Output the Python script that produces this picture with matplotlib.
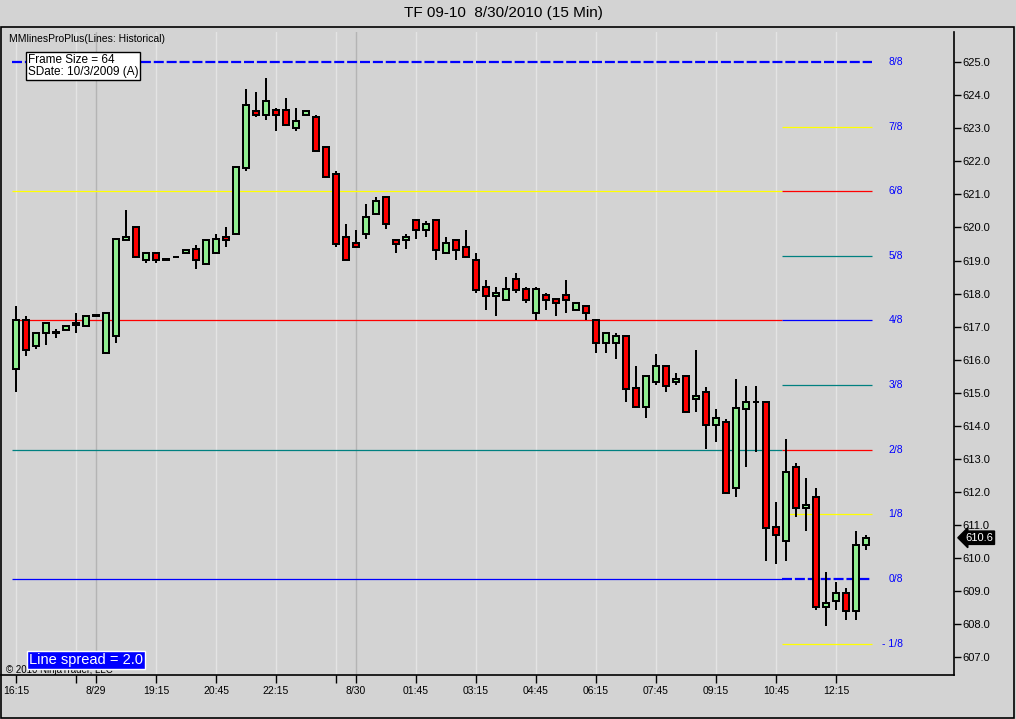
import matplotlib
matplotlib.use('agg')
import matplotlib.pyplot as plt
from matplotlib.patches import Rectangle
import numpy as np

plt.rcParams['font.family'] = ['Liberation Sans', 'DejaVu Sans']

# 15 min bars, TF 09-10
opens = [615.71, 617.20, 616.41, 616.80, 616.82, 616.90, 617.04, 617.02, 617.33, 616.21,
         616.72, 619.62, 620.02, 619.01, 619.24, 619.02, 619.10, 619.24, 619.34, 618.91,
         619.24, 619.72, 619.80, 621.80, 623.53, 623.40, 623.55, 623.55, 623.00, 623.40,
         623.33, 622.42, 621.63, 619.72, 619.52, 619.80, 620.41, 620.93, 619.62, 619.62,
         620.22, 619.92, 620.22, 619.22, 619.62, 619.42, 619.03, 618.21, 617.93, 617.81,
         618.43, 618.13, 617.40, 617.96, 617.83, 617.96, 617.50, 617.62, 617.20, 616.50,
         616.50, 616.72, 615.14, 614.58, 615.34, 615.81, 615.33, 615.51, 614.80, 615.03,
         614.03, 614.13, 612.11, 614.50, 614.73, 614.73, 610.93, 610.53, 612.75, 611.51,
         611.84, 608.52, 608.72, 608.94, 608.41, 610.40]
highs = [617.62, 617.32, 616.82, 617.12, 616.92, 617.02, 617.40, 617.32, 617.35, 617.42,
         619.64, 620.53, 620.02, 619.24, 619.24, 619.04, 619.12, 619.32, 619.47, 619.62,
         619.80, 620.00, 621.82, 624.20, 624.11, 624.51, 623.60, 623.90, 623.60, 623.53,
         623.40, 622.42, 621.70, 620.10, 619.92, 620.71, 620.91, 620.93, 619.62, 619.80,
         620.22, 620.20, 620.22, 619.70, 619.62, 619.92, 619.22, 618.41, 618.19, 618.49,
         618.61, 618.19, 618.19, 618.03, 617.83, 618.41, 617.72, 617.62, 617.20, 616.82,
         616.80, 616.72, 615.81, 615.51, 616.19, 615.81, 615.59, 615.51, 616.31, 615.18,
         614.50, 614.20, 615.41, 615.21, 615.21, 614.73, 611.71, 613.59, 612.89, 612.42,
         612.11, 609.59, 609.29, 609.09, 610.83, 610.70]
lows = [615.03, 616.11, 616.34, 616.44, 616.65, 616.90, 616.82, 617.02, 617.33, 616.21,
        616.51, 619.62, 619.10, 618.93, 618.93, 619.02, 619.10, 619.24, 618.73, 618.91,
        619.24, 619.42, 619.80, 621.71, 623.33, 623.25, 622.92, 623.10, 622.92, 623.40,
        622.31, 621.53, 619.42, 619.01, 619.40, 619.64, 620.41, 619.94, 619.24, 619.34,
        619.64, 619.72, 619.03, 619.22, 619.03, 619.10, 618.03, 617.52, 617.32, 617.81,
        618.03, 617.73, 617.20, 617.52, 617.32, 617.42, 617.50, 617.20, 616.21, 616.21,
        616.03, 614.73, 614.53, 614.23, 615.24, 615.03, 615.24, 614.43, 614.43, 613.29,
        613.52, 611.93, 611.84, 612.75, 613.22, 609.92, 609.82, 609.92, 611.24, 610.83,
        608.43, 607.95, 608.43, 608.13, 608.13, 610.25]
closes = [617.20, 616.31, 616.82, 617.12, 616.83, 617.02, 617.12, 617.32, 617.35, 617.42,
          619.64, 619.72, 619.10, 619.24, 619.01, 619.04, 619.12, 619.32, 619.01, 619.62,
          619.64, 619.62, 621.82, 623.71, 623.40, 623.83, 623.40, 623.10, 623.23, 623.53,
          622.31, 621.53, 619.50, 619.01, 619.40, 620.32, 620.81, 620.10, 619.50, 619.72,
          619.92, 620.12, 619.32, 619.52, 619.32, 619.10, 618.11, 617.93, 618.03, 618.13,
          618.11, 617.81, 618.13, 617.81, 617.71, 617.81, 617.72, 617.40, 616.50, 616.82,
          616.72, 615.11, 614.58, 615.51, 615.81, 615.21, 615.43, 614.43, 614.90, 614.03,
          614.23, 611.98, 614.53, 614.73, 614.73, 610.90, 610.70, 612.62, 611.51, 611.62,
          608.53, 608.64, 608.94, 608.41, 610.40, 610.62]

tick_pos = [0, 6, 8, 14, 20, 26, 32, 34, 40, 46, 52, 58, 64, 70, 76, 82]
tick_labels = ['16:15', '', '8/29', '19:15', '20:45', '22:15', '', '8/30', '01:45',
               '03:15', '04:45', '06:15', '07:45', '09:15', '10:45', '12:15']
date_ticks = [8, 34]

# MM lines (historical frame), bottom to top
mm_levels = [607.42, 609.375, 611.33, 613.28, 615.23, 617.19, 619.14, 621.09, 623.05, 625.0]
mm_labels = ['- 1/8', '0/8', '1/8', '2/8', '3/8', '4/8', '5/8', '6/8', '7/8', '8/8']
mm_colors = ['#ffff00', '#0000ff', '#ffff00', '#ff0000', '#008080',
             '#0000ff', '#008080', '#ff0000', '#ffff00', '#0000ff']
# lines carried over the whole chart
hist_levels = [609.375, 613.28, 617.19, 621.09]
hist_colors = ['#0000ff', '#008080', '#ff0000', '#ffff00']

bg = '#d3d3d3'
W, H = 1016, 719

fig = plt.figure(figsize=(W / 100, H / 100), dpi=100, facecolor=bg)
ax = fig.add_axes([1 / W, 44 / H, 953 / W, 643 / H], facecolor=bg)

x = np.arange(len(closes))
o = np.array(opens)
c = np.array(closes)

# grid
for t in tick_pos:
    col = '#b4b4b4' if t in date_ticks else '#e4e4e4'
    ax.axvline(t, color=col, lw=1, zorder=0)

# mm lines
x_start, x_split, x_end = -0.4, 76.6, 85.6
for lv, col in zip(hist_levels, hist_colors):
    ax.hlines(lv, x_start, x_split, colors=col, lw=0.9, zorder=1)
for lv, col, lab in zip(mm_levels, mm_colors, mm_labels):
    if lv in (625.0, 609.375):
        ax.plot([x_split if lv != 625.0 else x_start, x_end], [lv, lv], color='#0000ff',
                lw=1.6, dashes=(4.5, 1.3), zorder=1)
    else:
        ax.hlines(lv, x_split, x_end, colors=col, lw=0.9, zorder=1)
    ax.text(88.7, lv, lab, color='#0000ff', fontsize=7.5, ha='right', va='center')

# candles
ax.vlines(x, lows, highs, color='black', lw=1.4, zorder=2, antialiased=False)
body_col = np.where(c >= o, '#90ee90', '#ff0000')
ax.bar(x, np.abs(c - o), bottom=np.minimum(o, c), width=0.52, color=body_col,
       edgecolor='black', linewidth=1.15, zorder=3, antialiased=False)

ax.set_xlim(-1.5, 93.8)
ax.set_ylim(606.47, 625.91)

ax.set_xticks(tick_pos)
ax.set_xticklabels(tick_labels)
ax.yaxis.tick_right()
ax.set_yticks(np.arange(607, 626))
ax.set_yticklabels(['%.1f' % v for v in np.arange(607, 626)])
ax.tick_params(axis='y', direction='out', length=5, width=1, labelsize=8, pad=1)
ax.tick_params(axis='x', direction='out', length=6, width=1, labelsize=7.5, pad=2)
for s in ['top', 'left']:
    ax.spines[s].set_visible(False)
for s in ['right', 'bottom']:
    ax.spines[s].set_linewidth(1.2)

# last price marker
ax.text(1.0115, closes[-1], '%.1f' % closes[-1], transform=ax.get_yaxis_transform(),
        color='white', fontsize=8, ha='left', va='center', clip_on=False,
        bbox=dict(boxstyle='larrow,pad=0.15', fc='black', ec='black'))

# frame and texts
fig.patches.append(Rectangle((1 / W, 1 / H), 1013 / W, 691 / H, transform=fig.transFigure,
                             fill=False, ec='black', lw=1.2))
fig.text(503 / W, 1 - 13 / H, 'TF 09-10  8/30/2010 (15 Min)', ha='center', va='center',
         fontsize=11)
fig.text(9 / W, 1 - 39 / H, 'MMlinesProPlus(Lines: Historical)', ha='left', va='center',
         fontsize=7.5)
fig.text(28 / W, 1 - 66 / H, 'Frame Size = 64\nSDate: 10/3/2009 (A)', ha='left', va='center',
         fontsize=8.5, linespacing=1.05,
         bbox=dict(boxstyle='square,pad=0.15', fc='white', ec='black', lw=1))
fig.text(6 / W, 1 - 670 / H, '© 2010 NinjaTrader, LLC', ha='left', va='center', fontsize=7)
fig.text(29 / W, 1 - 660 / H, 'Line spread = 2.0', ha='left', va='center', fontsize=10.5,
         color='white', bbox=dict(boxstyle='square,pad=0.12', fc='#0000ff', ec='white', lw=1))

fig.savefig('out.png', dpi=100, facecolor=bg)
